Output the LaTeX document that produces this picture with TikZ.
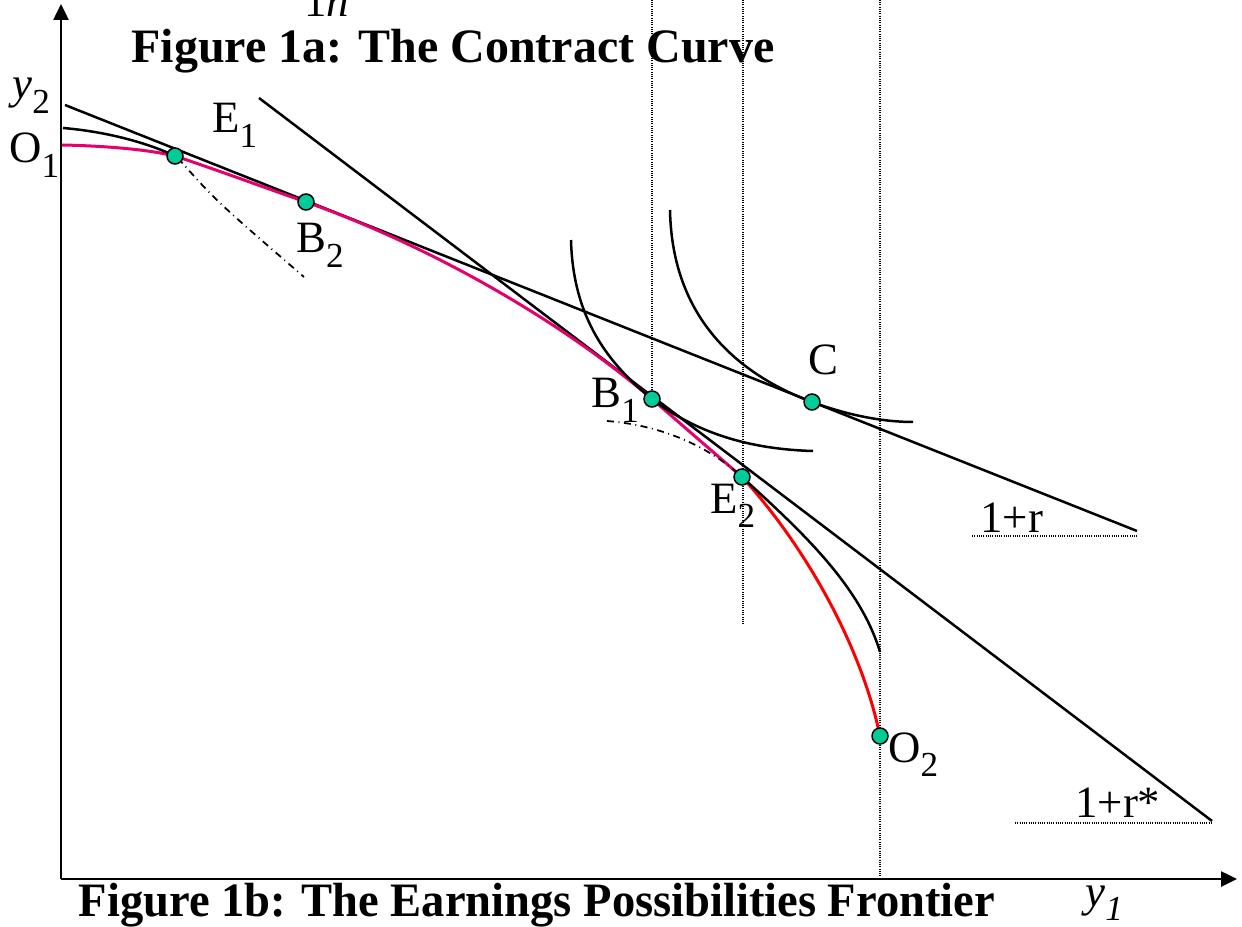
\documentclass[tikz,border=0pt]{standalone}
\usepackage{fontspec}
\setmainfont{Liberation Serif}
\usetikzlibrary{arrows.meta}
\definecolor{DotGreen}{HTML}{00CC99}
\definecolor{FrontPink}{HTML}{E6006E}
\definecolor{FrontRed}{HTML}{FF0000}
\newcommand{\lowsub}[1]{\raisebox{-8pt}{\fontsize{20}{20}\selectfont #1}}
\begin{document}
\begin{tikzpicture}[
x=0.2mm,y=-0.2mm,
lbl/.style={anchor=base west,inner sep=0pt,font=\fontsize{25.5}{30}\selectfont},
ttl/.style={anchor=base,inner sep=0pt,font=\fontsize{27.3}{32}\selectfont\bfseries},
pt/.style={circle,draw,line width=0.3mm,fill=DotGreen,minimum size=3.2mm,inner sep=0pt},
ln/.style={line width=0.5mm},
front/.style={line width=0.6mm},
dotln/.style={line width=0.3mm,dash pattern=on 0.2mm off 0.25mm},
dashdot/.style={line width=0.35mm,dash pattern=on 1.4mm off 0.9mm on 0.2mm off 0.9mm},
ax/.style={line width=0.5mm,-{Triangle[length=3.2mm,width=3mm]}}
]
\useasboundingbox (0,0) rectangle (1242,927);
\coordinate (O) at (61,879);
\coordinate (ytop) at (61,4);
\coordinate (xend) at (1237,879);
\coordinate (o1) at (62,145);
\coordinate (e1) at (175,156);
\coordinate (b2) at (306,202);
\coordinate (b1) at (652,399);
\coordinate (c) at (812,402);
\coordinate (e2) at (742,477);
\coordinate (o2) at (880,736);
\coordinate (rA) at (65,105);
\coordinate (rB) at (1137,531);
\coordinate (sA) at (259,98);
\coordinate (sB) at (1212,821);
\draw[ax] (O) -- (ytop);
\draw[ax] (O) -- (xend);
\draw[dotln] (b1) -- (b1 |- 0,0);
\draw[dotln] (743,0) -- (743,625);
\draw[dotln] (880,0) -- (O -| o2);
\draw[dotln] (972,536) -- (rB |- 0,536);
\draw[dotln] (1015,823) -- (sB |- 0,823);
\draw[ln] (rA) -- (rB);
\draw[ln] (sA) -- (sB);
\draw[front,FrontPink] (o1) .. controls (110,146) and (150,150) .. (e1)
  .. controls (220,171) and (260,186) .. (b2)
  .. controls (430,246) and (560,320) .. (b1)
  .. controls (690,432) .. (e2);
\draw[front,FrontRed] (e2) .. controls (800,540) and (860,640) .. (o2);
\draw[ln] (e2) .. controls (800,530) and (860,585) .. (880,652);
\draw[ln] (63,128) .. controls (110,132) and (150,144) .. (e1);
\draw[dashdot] (178,158) .. controls (215,200) .. (304,277);
\draw[ln] (571,240) .. controls (573,320) and (610,365) .. (b1)
  .. controls (690,428) and (740,449) .. (813,451);
\draw[ln] (670,210) .. controls (672,320) and (740,375) .. (c)
  .. controls (850,416) and (885,422) .. (913,422);
\draw[dashdot] (607,421) .. controls (670,426) and (715,452) .. (e2);
\foreach \p in {e1,b2,b1,c,e2,o2}
  \node[pt] (\p dot) at (\p) {};
\node[lbl] (y2lbl) at (12,99) {\textit{y}\lowsub{2}};
\node[lbl] (o1lbl) at (9,163) {O\lowsub{1}};
\node[lbl] (e1lbl) at (212,133) {E\lowsub{1}};
\node[lbl] (b2lbl) at (296,253) {B\lowsub{2}};
\node[lbl] (b1lbl) at (591,408) {B\lowsub{1}};
\node[lbl] (clbl) at (808,375) {C};
\node[lbl] (e2lbl) at (710,513) {E\lowsub{2}};
\node[lbl] (o2lbl) at (888,762) {O\lowsub{2}};
\node[lbl] (rlbl) at (980,532) {1+r};
\node[lbl] (rslbl) at (1075,817) {1+r*};
\node[lbl] (y1lbl) at (1085,906) {\textit{y}\lowsub{\textit{1}}};
\node[lbl] (cutlbl) at (304,17) {1\textit{n}};
\node[ttl] (topttl) at (453,63) {Figure 1a: The Contract Curve};
\node[ttl] (botttl) at (537,916) {\scalebox{0.97}[1]{Figure 1b: The Earnings Possibilities Frontier}};
\end{tikzpicture}
\end{document}
